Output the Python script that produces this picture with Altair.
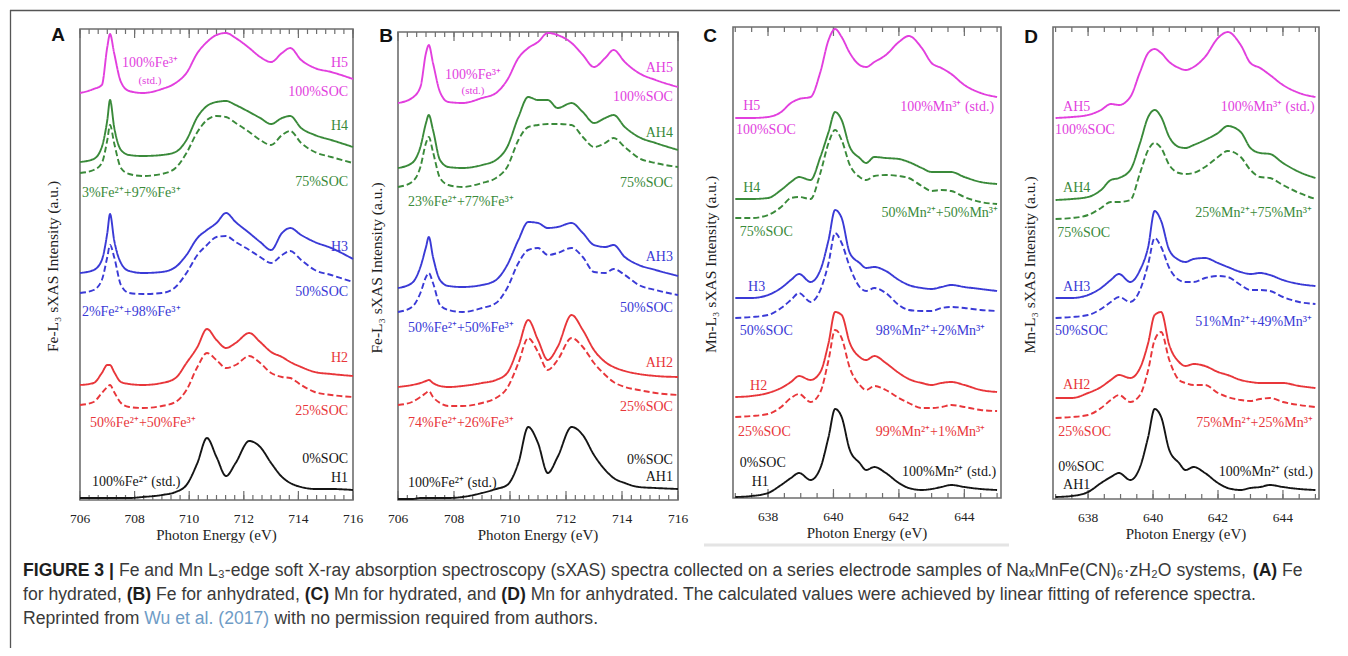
import altair as alt
import pandas as pd

# ---------------- data: energy grids ----------------
FE_E = [706.0, 706.5, 706.8, 707.0, 707.1, 707.25, 707.5, 707.8, 708.3, 709.0, 709.5, 709.9, 710.3,
        710.65, 711.0, 711.35, 711.7, 712.2, 712.6, 713.0, 713.4, 713.7, 714.1, 714.6, 715.2, 716.0]
MN_E = [637.0, 637.5, 638.0, 638.4, 638.7, 638.95, 639.3, 639.6, 639.85, 640.05, 640.25, 640.5, 640.8,
        641.0, 641.25, 641.6, 642.0, 642.3, 642.7, 643.0, 643.3, 643.6, 644.0, 644.5, 645.0]

# ---------------- panel A (Fe, hydrated) ----------------
A_H5 = [407, 411, 415, 453, 466, 447, 418, 409, 407, 411, 417, 427, 447, 458, 465, 467, 462, 452, 443, 438, 447, 452, 440, 432, 428, 421]
A_H4 = [338, 341, 353, 380, 400, 373, 350, 345, 344, 345, 348, 360, 383, 394, 398, 399, 395, 388, 382, 376, 382, 384, 372, 365, 360, 353]
A_H4_FIT = [327, 330, 337, 360, 375, 357, 332, 326, 324, 326, 332, 347, 368, 380, 384, 383, 377, 368, 360, 355, 365, 369, 357, 348, 343, 337]
A_H3 = [227, 230, 240, 267, 286, 260, 237, 229, 227, 228, 233, 245, 262, 270, 277, 287, 278, 267, 258, 250, 267, 272, 265, 258, 252, 241]
A_H3_FIT = [207, 210, 220, 243, 255, 243, 215, 207, 206, 207, 213, 227, 245, 255, 263, 264, 258, 250, 243, 237, 245, 249, 240, 230, 225, 218]
A_H2 = [115, 117, 127, 135, 135, 128, 118, 116, 115, 117, 122, 137, 153, 171, 160, 152, 157, 167, 158, 148, 143, 138, 133, 128, 126, 124]
A_H2_FIT = [95, 98, 107, 113, 115, 108, 97, 93, 92, 94, 98, 110, 133, 147, 140, 132, 135, 144, 137, 127, 123, 122, 115, 108, 105, 103]
A_H1 = [2, 2, 2, 2, 2, 2, 2, 2, 3, 5, 8, 15, 37, 62, 43, 24, 37, 59, 53, 37, 23, 17, 13, 11, 11, 10]

# ---------------- panel B (Fe, anhydrated) ----------------
B_H5 = [397, 402, 413, 447, 455, 437, 408, 398, 397, 402, 407, 420, 442, 452, 458, 467, 465, 457, 445, 433, 442, 450, 438, 427, 420, 413]
B_H4 = [332, 337, 353, 377, 385, 370, 340, 333, 332, 335, 340, 353, 383, 403, 400, 400, 392, 397, 388, 377, 382, 385, 373, 363, 357, 350]
B_H4_FIT = [313, 318, 333, 357, 363, 348, 322, 315, 313, 317, 322, 333, 360, 373, 375, 376, 376, 375, 363, 353, 357, 362, 353, 342, 337, 333]
B_H3 = [212, 217, 233, 253, 263, 243, 220, 214, 213, 215, 220, 235, 260, 278, 277, 272, 273, 277, 267, 255, 253, 255, 243, 235, 230, 224]
B_H3_FIT = [188, 193, 207, 223, 227, 217, 195, 190, 188, 192, 197, 212, 237, 250, 252, 245, 247, 252, 243, 228, 227, 231, 225, 215, 210, 205]
B_H2 = [113, 115, 117, 119, 120, 117, 114, 113, 114, 117, 120, 127, 153, 180, 160, 140, 153, 185, 170, 150, 138, 133, 129, 126, 124, 123]
B_H2_FIT = [95, 98, 103, 107, 109, 103, 97, 94, 94, 97, 102, 112, 137, 162, 148, 130, 140, 162, 153, 137, 125, 118, 113, 110, 107, 105]
B_H1 = [1, 1, 2, 2, 2, 2, 2, 2, 3, 7, 11, 15, 37, 73, 57, 27, 43, 73, 65, 45, 30, 22, 17, 13, 12, 11]

# ---------------- panel C (Mn, hydrated) ----------------
C_H5 = [380, 380, 381, 386, 395, 399, 401, 426, 458, 469, 461, 445, 433, 431, 436, 443, 456, 462, 450, 435, 430, 424, 413, 405, 401]
C_H4 = [299, 299, 300, 308, 316, 321, 318, 341, 366, 386, 378, 351, 340, 335, 341, 340, 339, 336, 330, 326, 326, 326, 321, 316, 314]
C_H4_FIT = [280, 280, 283, 291, 300, 301, 299, 325, 355, 368, 358, 333, 321, 318, 322, 323, 322, 320, 312, 307, 308, 307, 301, 296, 294]
C_H3 = [200, 200, 203, 210, 218, 224, 216, 228, 258, 288, 280, 245, 235, 230, 231, 227, 218, 213, 210, 209, 211, 213, 211, 209, 207]
C_H3_FIT = [180, 181, 183, 190, 198, 205, 196, 208, 235, 265, 255, 231, 211, 207, 210, 205, 193, 188, 187, 187, 190, 191, 190, 188, 187]
C_H2 = [101, 102, 105, 110, 116, 122, 118, 126, 155, 186, 183, 155, 141, 138, 142, 135, 125, 119, 115, 113, 115, 116, 113, 108, 106]
C_H2_FIT = [81, 82, 84, 91, 100, 104, 96, 106, 138, 168, 160, 130, 113, 108, 112, 108, 100, 95, 90, 90, 91, 93, 91, 88, 87]
C_H1 = [1, 2, 5, 13, 20, 25, 18, 30, 61, 89, 81, 48, 35, 28, 31, 25, 15, 10, 8, 9, 11, 13, 11, 9, 8]

# ---------------- panel D (Mn, anhydrated) ----------------
D_H5 = [381, 382, 384, 389, 395, 394, 402, 427, 446, 450, 446, 437, 431, 429, 432, 442, 461, 467, 454, 436, 431, 424, 414, 406, 402]
D_H4 = [299, 300, 302, 309, 319, 321, 329, 356, 382, 389, 382, 362, 352, 351, 354, 359, 366, 373, 367, 351, 346, 345, 336, 327, 321]
D_H4_FIT = [280, 281, 284, 291, 297, 297, 299, 326, 349, 356, 351, 334, 326, 325, 326, 332, 342, 348, 342, 329, 322, 321, 314, 306, 300]
D_H3 = [201, 201, 204, 211, 219, 225, 217, 229, 252, 288, 278, 249, 239, 237, 240, 241, 236, 232, 227, 225, 226, 224, 219, 215, 213]
D_H3_FIT = [181, 182, 184, 190, 197, 202, 197, 209, 235, 261, 252, 231, 219, 217, 217, 221, 223, 222, 214, 209, 209, 208, 202, 197, 195]
D_H2 = [101, 101, 106, 112, 119, 124, 121, 131, 156, 184, 187, 154, 137, 133, 135, 133, 127, 124, 119, 117, 116, 116, 116, 113, 111]
D_H2_FIT = [81, 82, 84, 91, 99, 104, 97, 104, 129, 159, 167, 139, 119, 116, 114, 114, 106, 102, 99, 98, 100, 101, 97, 94, 92]
D_H1 = [2, 3, 7, 16, 22, 26, 19, 32, 62, 90, 82, 49, 36, 29, 32, 26, 16, 11, 9, 11, 12, 14, 12, 10, 9]

# ---------------- annotation labels: (text, energy, intensity, SOC level, anchor) ----------------
A_LABELS = [
    ("100%Fe³⁺", 708.56, 437, "100", "center"), ("(std.)", 708.56, 419, "100", "small"),
    ("H5", 715.82, 437, "100", "right"), ("100%SOC", 715.82, 408, "100", "right"),
    ("H4", 715.82, 374, "75", "right"), ("75%SOC", 715.82, 318, "75", "right"),
    ("3%Fe²⁺+97%Fe³⁺", 706.07, 307, "75", "left"),
    ("H3", 715.82, 253, "50", "right"), ("50%SOC", 715.82, 208, "50", "right"),
    ("2%Fe²⁺+98%Fe³⁺", 706.07, 188, "50", "left"),
    ("H2", 715.82, 142, "25", "right"), ("25%SOC", 715.82, 89, "25", "right"),
    ("50%Fe²⁺+50%Fe³⁺", 706.37, 77, "25", "left"),
    ("0%SOC", 715.82, 41, "0", "right"), ("H1", 715.82, 22, "0", "right"),
    ("100%Fe²⁺ (std.)", 706.44, 18, "0", "left"),
]
B_LABELS = [
    ("100%Fe³⁺", 708.68, 425, "100", "center"), ("(std.)", 708.68, 409, "100", "small"),
    ("AH5", 715.82, 432, "100", "right"), ("100%SOC", 715.82, 403, "100", "right"),
    ("AH4", 715.82, 367, "75", "right"), ("75%SOC", 715.82, 317, "75", "right"),
    ("23%Fe²⁺+77%Fe³⁺", 706.36, 298, "75", "left"),
    ("AH3", 715.82, 243, "50", "right"), ("50%SOC", 715.82, 192, "50", "right"),
    ("50%Fe²⁺+50%Fe³⁺", 706.36, 172, "50", "left"),
    ("AH2", 715.82, 137, "25", "right"), ("25%SOC", 715.82, 93, "25", "right"),
    ("74%Fe²⁺+26%Fe³⁺", 706.36, 77, "25", "left"),
    ("0%SOC", 715.82, 40, "0", "right"), ("AH1", 715.82, 23, "0", "right"),
    ("100%Fe²⁺ (std.)", 706.36, 17, "0", "left"),
]
C_LABELS = [
    ("H5", 637.24, 392, "100", "left"), ("100%SOC", 637.02, 368, "100", "left"),
    ("100%Mn³⁺ (std.)", 644.91, 391, "100", "right"),
    ("H4", 637.24, 310, "75", "left"), ("75%SOC", 637.14, 266, "75", "left"),
    ("50%Mn²⁺+50%Mn³⁺", 645.03, 285, "75", "right"),
    ("H3", 637.39, 211, "50", "left"), ("50%SOC", 637.14, 167, "50", "left"),
    ("98%Mn²⁺+2%Mn³⁺", 644.64, 167, "50", "right"),
    ("H2", 637.45, 112, "25", "left"), ("25%SOC", 637.08, 66, "25", "left"),
    ("99%Mn²⁺+1%Mn³⁺", 644.64, 66, "25", "right"),
    ("0%SOC", 637.14, 35, "0", "left"), ("H1", 637.5, 16, "0", "left"),
    ("100%Mn²⁺ (std.)", 644.97, 26, "0", "right"),
]
D_LABELS = [
    ("AH5", 637.23, 392, "100", "left"), ("100%SOC", 636.98, 369, "100", "left"),
    ("100%Mn³⁺ (std.)", 644.98, 392, "100", "right"),
    ("AH4", 637.23, 311, "75", "left"), ("75%SOC", 637.05, 266, "75", "left"),
    ("25%Mn²⁺+75%Mn³⁺", 644.89, 286, "75", "right"),
    ("AH3", 637.23, 212, "50", "left"), ("50%SOC", 636.98, 168, "50", "left"),
    ("51%Mn²⁺+49%Mn³⁺", 644.89, 177, "50", "right"),
    ("AH2", 637.23, 114, "25", "left"), ("25%SOC", 637.08, 67, "25", "left"),
    ("75%Mn²⁺+25%Mn³⁺", 644.92, 76, "25", "right"),
    ("0%SOC", 637.08, 32, "0", "left"), ("AH1", 637.23, 14, "0", "left"),
    ("100%Mn²⁺ (std.)", 644.92, 27, "0", "right"),
]

FE_MAJOR = [706, 708, 710, 712, 714, 716]
MN_MAJOR = [638, 640, 642, 644]

LEVELS = ["0", "25", "50", "75", "100"]
LEVEL_COLORS = ["#151515", "#e8363a", "#3a3ad6", "#3a8a3a", "#e23fde"]

CAPTION = [
    [("FIGURE 3 |", "bold", "dark"),
     (" Fe and Mn L₃-edge soft X-ray absorption spectroscopy (sXAS) spectra collected on a series electrode samples of NaₓMnFe(CN)₆·zH₂O systems, ", "normal", "text"),
     ("(A)", "bold", "dark"), (" Fe", "normal", "text")],
    [("for hydrated, ", "normal", "text"), ("(B)", "bold", "dark"), (" Fe for anhydrated, ", "normal", "text"),
     ("(C)", "bold", "dark"), (" Mn for hydrated, and ", "normal", "text"), ("(D)", "bold", "dark"),
     (" Mn for anhydrated. The calculated values were achieved by linear fitting of reference spectra.", "normal", "text")],
    [("Reprinted from ", "normal", "text"), ("Wu et al. (2017)", "normal", "link"),
     (" with no permission required from authors.", "normal", "text")],
]

# ---------------- styling ----------------
SERIF = "Liberation Serif"
SANS = "Liberation Sans"
COLOR_SCALE = alt.Scale(domain=LEVELS, range=LEVEL_COLORS)
DASH_SCALE = alt.Scale(domain=["measured", "fit"], range=[[1, 0], [6, 3]])
AXIS_GREY = "#6e6e6e"


def build_panel(E, curves, labels, xdom, xr, ytop, yr, majors, minor_step, ytitle, ytitle_x, letter, letter_xy):
    xs = alt.Scale(domain=xdom, range=xr, nice=False, zero=False)
    ys = alt.Scale(domain=[0, ytop], range=yr, nice=False, zero=False)
    X = alt.X("E:Q", scale=xs, axis=None)
    Y = alt.Y("I:Q", scale=ys, axis=None)
    col = alt.Color("level:N", scale=COLOR_SCALE, legend=None)

    rows = []
    for name, level, kind, vals in curves:
        for e, v in zip(E, vals):
            rows.append({"E": e, "I": v, "curve": name, "level": level, "kind": kind})
    cdf = pd.DataFrame(rows)

    layers = []
    frame = alt.Chart(pd.DataFrame({"k": [0]})).mark_rect(
        fillOpacity=0, stroke=AXIS_GREY, strokeWidth=1.6
    ).encode(x=alt.value(xr[0]), x2=alt.value(xr[1]), y=alt.value(yr[1]), y2=alt.value(yr[0]))
    layers.append(frame)

    lo, hi = xdom
    minors = []
    v = majors[0]
    while v > lo:
        v -= minor_step
    while v <= hi + 1e-9:
        if v >= lo - 1e-9:
            minors.append(round(v, 4))
        v += minor_step
    mdf = pd.DataFrame({"E": minors})
    Mdf = pd.DataFrame({"E": majors, "lab": [str(m) for m in majors]})
    XT = alt.X("E:Q", scale=xs, axis=None)
    for df, ln in ((mdf, 5), (Mdf, 9)):
        layers.append(alt.Chart(df).mark_rule(color=AXIS_GREY, strokeWidth=1.2).encode(
            x=XT, y=alt.value(yr[0]), y2=alt.value(yr[0] - ln)))
        layers.append(alt.Chart(df).mark_rule(color=AXIS_GREY, strokeWidth=1.2).encode(
            x=XT, y=alt.value(yr[1]), y2=alt.value(yr[1] + ln)))
    layers.append(alt.Chart(Mdf).mark_text(font=SERIF, fontSize=13.5, color="#222", baseline="middle").encode(
        x=XT, y=alt.value(yr[0] + 19), text="lab:N"))

    layers.append(alt.Chart(cdf).mark_line(interpolate="monotone", strokeWidth=1.9).encode(
        x=X, y=Y, color=col,
        strokeDash=alt.StrokeDash("kind:N", scale=DASH_SCALE, legend=None),
        detail="curve:N"))

    ldf = pd.DataFrame(labels, columns=["text", "E", "I", "level", "anchor"])
    for anchor in ["left", "right", "center", "small"]:
        sub = ldf[ldf["anchor"] == anchor]
        if len(sub) == 0:
            continue
        al = "center" if anchor == "small" else anchor
        fs = 11 if anchor == "small" else 14
        layers.append(alt.Chart(sub).mark_text(align=al, baseline="middle", font=SERIF, fontSize=fs).encode(
            x=X, y=Y, text="text:N", color=col))

    one = pd.DataFrame({"k": [0]})
    layers.append(alt.Chart(one).mark_text(font=SERIF, fontSize=15, color="#222", baseline="middle").encode(
        x=alt.value((xr[0] + xr[1]) / 2), y=alt.value(yr[0] + 35), text=alt.value("Photon Energy (eV)")))
    layers.append(alt.Chart(one).mark_text(font=SERIF, fontSize=15.5, color="#222", baseline="middle",
                                           angle=270).encode(
        x=alt.value(ytitle_x), y=alt.value((yr[0] + yr[1]) / 2 + 2), text=alt.value(ytitle)))
    layers.append(alt.Chart(one).mark_text(font=SANS, fontSize=19, fontWeight="bold", color="#111",
                                           baseline="middle").encode(
        x=alt.value(letter_xy[0]), y=alt.value(letter_xy[1]), text=alt.value(letter)))
    return alt.layer(*layers)


def curveset(prefix, h5, h4, h4f, h3, h3f, h2, h2f, h1):
    return [
        (prefix + "5", "100", "measured", h5),
        (prefix + "4", "75", "measured", h4), (prefix + "4f", "75", "fit", h4f),
        (prefix + "3", "50", "measured", h3), (prefix + "3f", "50", "fit", h3f),
        (prefix + "2", "25", "measured", h2), (prefix + "2f", "25", "fit", h2f),
        (prefix + "1", "0", "measured", h1),
    ]


panelA = build_panel(FE_E, curveset("H", A_H5, A_H4, A_H4_FIT, A_H3, A_H3_FIT, A_H2, A_H2_FIT, A_H1), A_LABELS,
                     [706, 716], [72, 345], 471, [492, 21], FE_MAJOR, 1 / 3,
                     "Fe-L₃ sXAS Intensity (a.u.)", 45, "A", (50, 27))
panelB = build_panel(FE_E, curveset("AH", B_H5, B_H4, B_H4_FIT, B_H3, B_H3_FIT, B_H2, B_H2_FIT, B_H1), B_LABELS,
                     [706, 716], [390, 670], 468, [492, 24], FE_MAJOR, 1 / 3,
                     "Fe-L₃ sXAS Intensity (a.u.)", 369, "B", (378, 28))
panelC = build_panel(MN_E, curveset("H", C_H5, C_H4, C_H4_FIT, C_H3, C_H3_FIT, C_H2, C_H2_FIT, C_H1), C_LABELS,
                     [636.93, 645.12], [725, 993], 471, [490, 19], MN_MAJOR, 0.5,
                     "Mn-L₃ sXAS Intensity (a.u.)", 703, "C", (702, 28))
panelD = build_panel(MN_E, curveset("AH", D_H5, D_H4, D_H4_FIT, D_H3, D_H3_FIT, D_H2, D_H2_FIT, D_H1), D_LABELS,
                     [636.92, 645.11], [1045, 1311], 472, [491, 19], MN_MAJOR, 0.5,
                     "Mn-L₃ sXAS Intensity (a.u.)", 1022, "D", (1023, 29))

# ---------------- border & caption ----------------
one = pd.DataFrame({"k": [0]})
decor = [
    alt.Chart(one).mark_rule(color="#555", strokeWidth=1.3).encode(
        x=alt.value(2), x2=alt.value(1332), y=alt.value(2.5)),
    alt.Chart(one).mark_rule(color="#555", strokeWidth=1.3).encode(
        x=alt.value(2.5), y=alt.value(2), y2=alt.value(640)),
    alt.Chart(one).mark_rule(color="#e4e4e4", strokeWidth=3).encode(
        x=alt.value(696), x2=alt.value(1001), y=alt.value(537)),
]

REG_W = {' ': 278, '(': 333, ')': 333, ',': 278, '-': 333, '.': 278, '|': 260, '·': 340, '%': 889,
         'a': 556, 'b': 556, 'c': 500, 'd': 556, 'e': 556, 'f': 278, 'g': 556, 'h': 556, 'i': 222, 'j': 222,
         'k': 500, 'l': 222, 'm': 833, 'n': 556, 'o': 556, 'p': 556, 'q': 556, 'r': 333, 's': 500, 't': 278,
         'u': 556, 'v': 500, 'w': 722, 'x': 500, 'y': 500, 'z': 500, 'A': 667, 'B': 667, 'C': 722, 'D': 722,
         'E': 667, 'F': 611, 'G': 778, 'H': 722, 'I': 278, 'L': 556, 'M': 833, 'N': 722, 'O': 778, 'R': 722,
         'S': 667, 'T': 611, 'W': 944, 'X': 667, '₃': 405, '₆': 405, '₂': 405, 'ₓ': 405}
BOLD_W = {'(': 333, ')': 333, 'A': 722, 'B': 722, 'C': 722, 'D': 722, 'F': 611, 'I': 278, 'G': 778,
          'U': 722, 'R': 722, 'E': 667, ' ': 278, '3': 556, '|': 280}


def units(s, weight):
    table = BOLD_W if weight == "bold" else REG_W
    return sum(table.get(ch, 556) for ch in s)


line1_units = sum(units(t, w) for t, w, _ in CAPTION[0])
CAP_SIZE = max(14.0, min(17.6, 1300 * 1000 / line1_units))
CAP_COLORS = {"dark": "#1e1e1e", "text": "#3a3a3a", "link": "#6f9cc6"}
CAP_Y = [563, 587, 611]
for li, line in enumerate(CAPTION):
    xpos = 15.0
    for text, weight, ckey in line:
        lead = len(text) - len(text.lstrip(" "))
        x_draw = xpos + units(" " * lead, weight) * CAP_SIZE / 1000
        decor.append(alt.Chart(one).mark_text(
            align="left", baseline="middle", font=SANS, fontSize=CAP_SIZE, fontWeight=weight,
            color=CAP_COLORS[ckey]).encode(
            x=alt.value(x_draw), y=alt.value(CAP_Y[li]), text=alt.value(text.strip(" "))))
        xpos += units(text, weight) * CAP_SIZE / 1000

chart = alt.layer(panelA, panelB, panelC, panelD, *decor).resolve_scale(
    x="independent", y="independent"
).properties(
    width=1332, height=640, padding=0, autosize=alt.AutoSizeParams(type="none")
).configure_view(stroke=None)

chart.save("out.html", embed_options={"renderer": "svg", "actions": False})
